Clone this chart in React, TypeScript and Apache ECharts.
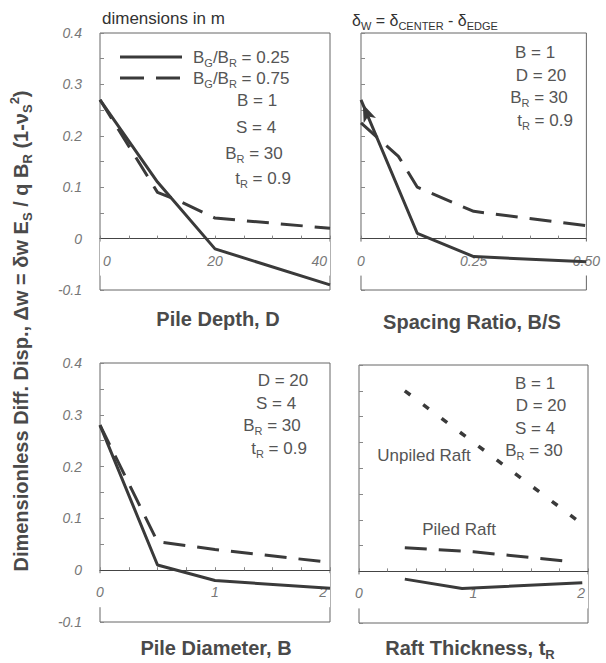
import React, { useEffect, useRef } from 'react';
import * as echarts from 'echarts';

// ---------- data ----------
const depthSolid = [[0, 0.27], [10, 0.11], [20, -0.02], [40, -0.09]];
const depthDashed = [[0, 0.27], [10, 0.09], [14, 0.072], [20, 0.04], [40, 0.02]];
const spacingSolid = [[0, 0.27], [0.125, 0.01], [0.25, -0.035], [0.5, -0.045]];
const spacingDashed = [[0, 0.225], [0.083, 0.16], [0.125, 0.1], [0.25, 0.053], [0.5, 0.025]];
const diameterSolid = [[0, 0.28], [0.5, 0.01], [1, -0.02], [2, -0.035]];
const diameterDashed = [[0, 0.28], [0.5, 0.055], [1, 0.04], [2, 0.015]];
const raftUnpiled = [[0.4, 0.35], [1.9, 0.1]];
const raftPiled = [[0.4, 0.046], [1.0, 0.038], [1.85, 0.019]];
const raftSolid = [[0.4, -0.015], [0.9, -0.033], [1.95, -0.022]];

const yMin = -0.1;
const yMax = 0.4;
const yLabelValues = [-0.1, 0, 0.1, 0.2, 0.3, 0.4];
const yLabelTexts = ['-0.1', '0', '0.1', '0.2', '0.3', '0.4'];
const depthLabelValues = [0, 20, 40];
const depthLabelTexts = ['0', '20', '40'];
const spacingLabelValues = [0, 0.25, 0.5];
const spacingLabelTexts = ['0', '0.25', '0.50'];
const diameterLabelValues = [0, 1, 2];
const diameterLabelTexts = ['0', '1', '2'];
const raftLabelValues = [0, 1, 2];
const raftLabelTexts = ['0', '1', '2'];

// ---------- styles ----------
const FONT = '"Liberation Sans", Arial, Helvetica, sans-serif';
const LINE = '#3a3a3a';
const ANN = '#555';

const fmt = (values: number[], texts: string[]) => (v: number) => {
  const i = values.findIndex((x) => Math.abs(x - v) < 1e-6);
  return i >= 0 ? texts[i] : '';
};

const grids = [
  { left: 100, top: 33, width: 230, height: 257 },
  { left: 361, top: 33, width: 229, height: 257 },
  { left: 100, top: 363, width: 230, height: 259 },
  { left: 359, top: 365, width: 229, height: 258 },
];

const annRich = {
  m: { fontSize: 17, fill: ANN, fontFamily: FONT, lineHeight: 22 },
  s: { fontSize: 11, fill: ANN, fontFamily: FONT, lineHeight: 11, verticalAlign: 'bottom' },
};

function ann(text: string, x: number, y: number, align = 'center') {
  return {
    type: 'text',
    x,
    y,
    z: 10,
    style: { text, rich: annRich, align, verticalAlign: 'middle', fontFamily: FONT },
  };
}

const titleRich = {
  b: { fontSize: 20, fontWeight: 'bold', fill: '#4a4a4a', fontFamily: FONT, lineHeight: 26 },
  bs: { fontSize: 13, fontWeight: 'bold', fill: '#4a4a4a', fontFamily: FONT, lineHeight: 13, verticalAlign: 'bottom' },
  bsup: { fontSize: 13, fontWeight: 'bold', fill: '#4a4a4a', fontFamily: FONT, lineHeight: 13, verticalAlign: 'top' },
};

function title(text: string, x: number, y: number, rotation = 0) {
  return {
    type: 'text',
    x,
    y,
    rotation,
    z: 10,
    style: { text, rich: titleRich, align: 'center', verticalAlign: 'middle', fontFamily: FONT },
  };
}

function makeX(idx: number, max: number, interval: number, values: number[], texts: string[], alignMin: string, alignMax: string) {
  const zeroOffset = -grids[idx].height * (0 - yMin) / (yMax - yMin);
  return {
    type: 'value',
    gridIndex: idx,
    position: 'bottom',
    offset: zeroOffset,
    min: 0,
    max,
    interval,
    z: 1,
    axisLine: { show: true, onZero: false, lineStyle: { color: '#444', width: 1.2 } },
    axisTick: { show: true, inside: true, length: 3, lineStyle: { color: '#888' } },
    splitLine: { show: false },
    axisLabel: {
      formatter: fmt(values, texts),
      fontStyle: 'italic',
      fontSize: 14,
      color: '#777',
      fontFamily: FONT,
      margin: 3,
      backgroundColor: '#fff',
      padding: [12, 3, 8, 3],
      alignMinLabel: alignMin,
      alignMaxLabel: alignMax,
    },
  };
}

function makeY(idx: number, showLabels: boolean) {
  return {
    type: 'value',
    gridIndex: idx,
    min: yMin,
    max: yMax,
    interval: 0.05,
    axisLine: { show: false },
    axisTick: { show: true, inside: true, length: 4, lineStyle: { color: '#888' } },
    splitLine: { show: false },
    axisLabel: {
      show: showLabels,
      formatter: fmt(yLabelValues, yLabelTexts),
      fontStyle: 'italic',
      fontSize: 14,
      color: '#777',
      fontFamily: FONT,
      margin: 18,
    },
  };
}

function line(idx: number, data: any[], type: any, width = 3) {
  return {
    type: 'line',
    xAxisIndex: idx,
    yAxisIndex: idx,
    data,
    symbol: 'none',
    showSymbol: true,
    z: 3,
    lineStyle: { color: LINE, width, type, cap: 'butt' },
    itemStyle: { color: LINE },
  };
}

const DASH = [22, 12];
const DOT = [7, 16];

export default function App() {
  const ref = useRef<HTMLDivElement>(null);
  useEffect(() => {
    document.body.style.margin = '0';
    if (!ref.current) return;
    const chart = echarts.init(ref.current, undefined, { renderer: 'svg' });
    const spacingSolidData = spacingSolid.map((p, i) =>
      i === 0
        ? { value: p, symbol: 'arrow', symbolSize: [10, 18], symbolRotate: 23, symbolOffset: [1.8, 4.2], itemStyle: { color: LINE } }
        : { value: p }
    );
    chart.setOption({
      animation: false,
      backgroundColor: '#fff',
      grid: grids.map((g) => ({ ...g, show: true, borderColor: '#666', borderWidth: 1, backgroundColor: 'transparent' })),
      xAxis: [
        makeX(0, 40, 5, depthLabelValues, depthLabelTexts, 'left', 'right'),
        makeX(1, 0.5, 0.0625, spacingLabelValues, spacingLabelTexts, 'center', 'center'),
        makeX(2, 2, 0.25, diameterLabelValues, diameterLabelTexts, 'center', 'right'),
        makeX(3, 2, 0.25, raftLabelValues, raftLabelTexts, 'center', 'right'),
      ],
      yAxis: [makeY(0, true), makeY(1, false), makeY(2, true), makeY(3, false)],
      series: [
        line(0, depthSolid, 'solid'),
        line(0, depthDashed, DASH),
        line(1, spacingSolidData, 'solid'),
        line(1, spacingDashed, DASH),
        line(2, diameterSolid, 'solid'),
        line(2, diameterDashed, DASH),
        line(3, raftUnpiled, DOT, 3.5),
        line(3, raftPiled, DASH),
        line(3, raftSolid, 'solid'),
      ],
      graphic: [
        {
          type: 'text',
          x: 102,
          y: 18,
          style: { text: 'dimensions in m', fontSize: 17, fill: '#333', fontFamily: FONT, align: 'left', verticalAlign: 'middle' },
        },
        {
          type: 'text',
          x: 352,
          y: 20,
          style: {
            text: '{m|δ}{s|W}{m| = δ}{s|CENTER}{m| - δ}{s|EDGE}',
            align: 'left',
            verticalAlign: 'middle',
            rich: {
              m: { fontSize: 16, fill: '#333', fontFamily: FONT, lineHeight: 22 },
              s: { fontSize: 11, fill: '#333', fontFamily: FONT, lineHeight: 11, verticalAlign: 'bottom' },
            },
          },
        },
        // legend
        { type: 'line', shape: { x1: 120, y1: 57, x2: 182, y2: 57 }, style: { stroke: LINE, lineWidth: 3 } },
        { type: 'line', shape: { x1: 120, y1: 78, x2: 182, y2: 78 }, style: { stroke: LINE, lineWidth: 3, lineDash: [24, 12] } },
        ann('{m|B}{s|G}{m|/B}{s|R}{m| = 0.25}', 193, 57, 'left'),
        ann('{m|B}{s|G}{m|/B}{s|R}{m| = 0.75}', 193, 78, 'left'),
        // top-left
        ann('{m|B = 1}', 257, 100),
        ann('{m|S = 4}', 256, 127),
        ann('{m|B}{s|R}{m| = 30}', 254, 153),
        ann('{m|t}{s|R}{m| = 0.9}', 263, 178),
        // top-right
        ann('{m|B = 1}', 535, 52),
        ann('{m|D = 20}', 541, 75),
        ann('{m|B}{s|R}{m| = 30}', 539, 97),
        ann('{m|t}{s|R}{m| = 0.9}', 545, 120),
        // bottom-left
        ann('{m|D = 20}', 283, 380),
        ann('{m|S = 4}', 276, 403),
        ann('{m|B}{s|R}{m| = 30}', 272, 425),
        ann('{m|t}{s|R}{m| = 0.9}', 279, 448),
        // bottom-right
        ann('{m|B = 1}', 535, 383),
        ann('{m|D = 20}', 541, 405),
        ann('{m|S = 4}', 535, 428),
        ann('{m|B}{s|R}{m| = 30}', 534, 450),
        ann('{m|Unpiled Raft}', 424, 455),
        ann('{m|Piled Raft}', 459, 529),
        // axis titles
        title('{b|Pile Depth, D}', 218, 319),
        title('{b|Spacing Ratio, B/S}', 472, 322),
        title('{b|Pile Diameter, B}', 216, 648),
        title('{b|Raft Thickness, t}{bs|R}', 470, 648),
        title(
          '{b|Dimensionless Diff. Disp., Δw = δw E}{bs|S}{b| / q B}{bs|R}{b| (1-ν}{bs|S}{bsup|2}{b|)}',
          21,
          331,
          Math.PI / 2
        ),
      ],
    });
    return () => chart.dispose();
  }, []);
  return <div ref={ref} style={{ width: 606, height: 663 }} />;
}
